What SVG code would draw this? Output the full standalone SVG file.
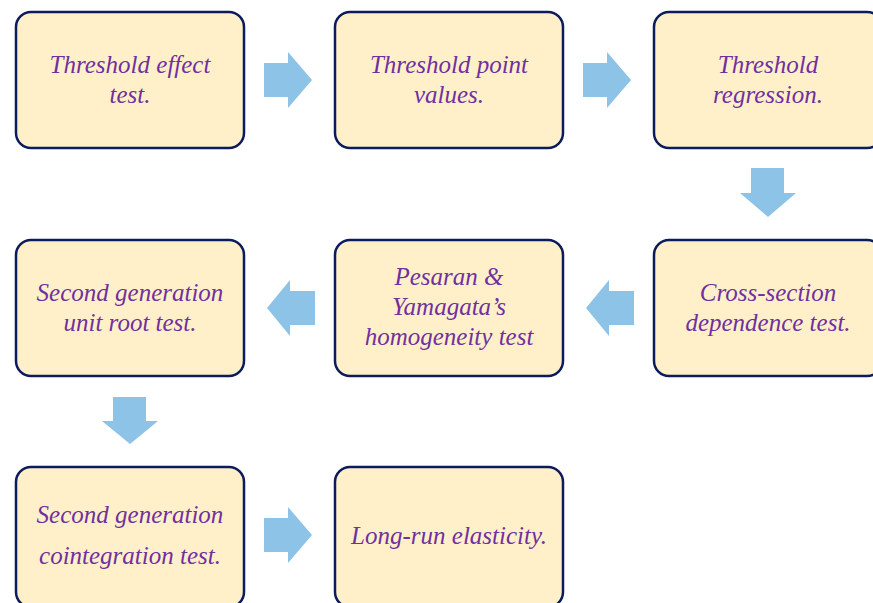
<svg xmlns="http://www.w3.org/2000/svg" width="873" height="603" viewBox="0 0 873 603">
<style>
.box{fill:#FFF0CA;stroke:#0B1B5C;stroke-width:2.5}
.t{font-family:"Liberation Serif","DejaVu Serif",serif;font-style:italic;font-size:25px;fill:#7030A0;text-anchor:middle}
.arr{fill:#8CC3E6}
</style>
<rect width="873" height="603" fill="#fff"/>
<g id="n1"><rect class="box" x="16" y="12" width="228" height="136" rx="15"/><text class="t" x="130" y="73">Threshold effect</text><text class="t" x="130" y="103">test.</text></g>
<g id="n2"><rect class="box" x="335" y="12" width="228" height="136" rx="15"/><text class="t" x="449" y="73">Threshold point</text><text class="t" x="449" y="103">values.</text></g>
<g id="n3"><rect class="box" x="654" y="12" width="228" height="136" rx="15"/><text class="t" x="768" y="73">Threshold</text><text class="t" x="768" y="103">regression.</text></g>
<g id="n4"><rect class="box" x="654" y="240" width="228" height="136" rx="15"/><text class="t" x="768" y="301">Cross-section</text><text class="t" x="768" y="331">dependence test.</text></g>
<g id="n5"><rect class="box" x="335" y="240" width="228" height="136" rx="15"/><text class="t" x="449" y="285">Pesaran &amp;</text><text class="t" x="449" y="315">Yamagata’s</text><text class="t" x="449" y="345">homogeneity test</text></g>
<g id="n6"><rect class="box" x="16" y="240" width="228" height="136" rx="15"/><text class="t" x="130" y="301">Second generation</text><text class="t" x="130" y="331">unit root test.</text></g>
<g id="n7"><rect class="box" x="16" y="467" width="228" height="140" rx="15"/><text class="t" x="130" y="523">Second generation</text><text class="t" x="130" y="564">cointegration test.</text></g>
<g id="n8"><rect class="box" x="335" y="467" width="228" height="140" rx="15"/><text class="t" x="449" y="544">Long-run elasticity.</text></g>
<g id="connectors">
<polygon class="arr" points="264,63 288,63 288,52 312,80 288,108 288,97 264,97"/>
<polygon class="arr" points="583,63 607,63 607,52 631,80 607,108 607,97 583,97"/>
<polygon class="arr" points="751,168 784,168 784,193 796,193 768,217 740,193 751,193"/>
<polygon class="arr" points="634,291 609,291 609,280 586,308 609,336 609,325 634,325"/>
<polygon class="arr" points="315,291 290,291 290,280 267,308 290,336 290,325 315,325"/>
<polygon class="arr" points="113,397 146,397 146,421 158,421 130,444 102,421 113,421"/>
<polygon class="arr" points="264,518 288,518 288,507 312,535 288,563 288,552 264,552"/>
</g>
</svg>
